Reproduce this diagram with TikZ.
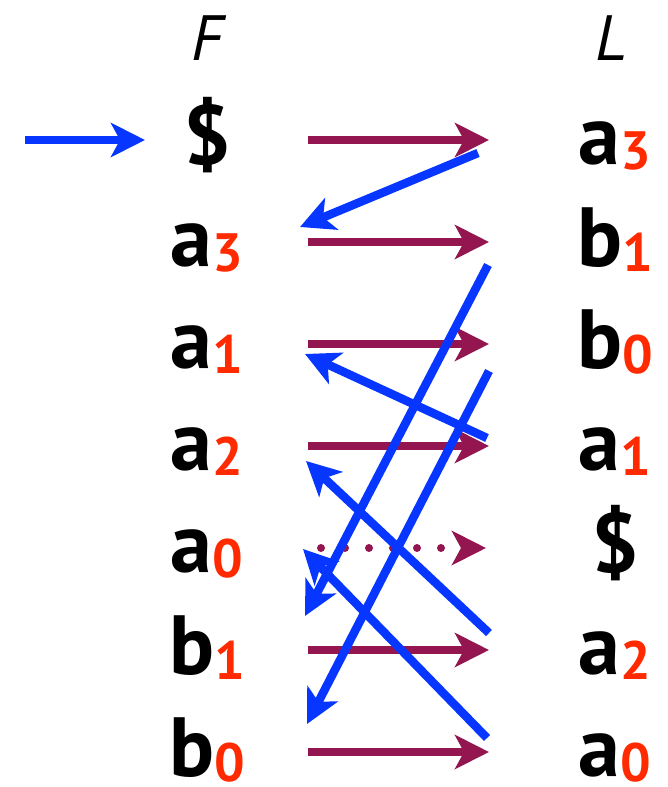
\documentclass[tikz,border=0pt]{standalone}
\usepackage{fontspec}
\setmainfont{PT Sans}
\usepackage{xcolor}
\usetikzlibrary{arrows.meta, calc, positioning}
\definecolor{C_BLUE}{HTML}{0636FF}
\definecolor{C_PURP}{HTML}{931651}
\definecolor{C_IDX}{HTML}{FF2A00}
\newcommand{\idx}[1]{{\fontsize{54}{54}\selectfont\color{C_IDX}\raisebox{-5pt}{#1}}}

\begin{document}
\begin{tikzpicture}[
  x=1pt, y=-1pt,
  sym/.style={inner sep=0pt, text height=48pt, text depth=0pt,
              font=\fontsize{84}{84}\selectfont\bfseries, text centered},
  head/.style={inner sep=0pt, anchor=base, font=\fontsize{64}{64}\selectfont\itshape},
  fl/.style={-{Stealth[length=34pt, width=34pt, inset=9pt]}, line width=8pt, color=C_PURP},
  lf/.style={-{Stealth[length=34pt, width=34pt, inset=9pt]}, line width=8.5pt, color=C_BLUE},
]
\useasboundingbox (0,0) rectangle (667,787);

%% Column headers
\node[head] (hf) at (207,60) {F};
\node[head] (hl) at (611,60) {L};

%% F and L columns
\foreach \i/\f/\l in {1/{\$}/{a\idx{3}}, 2/{a\idx{3}}/{b\idx{1}}, 3/{a\idx{1}}/{b\idx{0}},
                      4/{a\idx{2}}/{a\idx{1}}, 5/{a\idx{0}}/{\$}, 6/{b\idx{1}}/{a\idx{2}},
                      7/{b\idx{0}}/{a\idx{0}}} {
  \node[sym] (f\i) at (207,{140+102*(\i-1)}) {\f};
  \node[sym] (l\i) at (615,{140+102*(\i-1)}) {\l};
}

%% Start arrow
\coordinate (start) at (25,140);
\draw[lf] (start) -- ([xshift=-62]f1.center);

%% F -> L arrows (row 5 dotted)
\foreach \i in {1,2,3,4,6,7}
  \draw[fl] ([xshift=101]f\i.center) -- ([xshift=-126]l\i.center);
\draw[fl, line cap=round, dash pattern=on 0pt off 24pt]
  ([xshift=114]f5.center) -- ([xshift=-129]l5.center);

%% L -> F arrows (LF mapping)
\foreach \a/\b/\sx/\u/\ex/\v in {1/2/-137/13/93/-15, 2/6/-127/23/98/-34, 3/7/-126/27/100/-28,
                                 4/3/-128/-8/98/10, 6/4/-126/-17/99/15, 7/5/-128/-14/96/1}
  \draw[lf] ([shift={(\sx,\u)}]l\a.center) -- ([shift={(\ex,\v)}]f\b.center);

\end{tikzpicture}
\end{document}
